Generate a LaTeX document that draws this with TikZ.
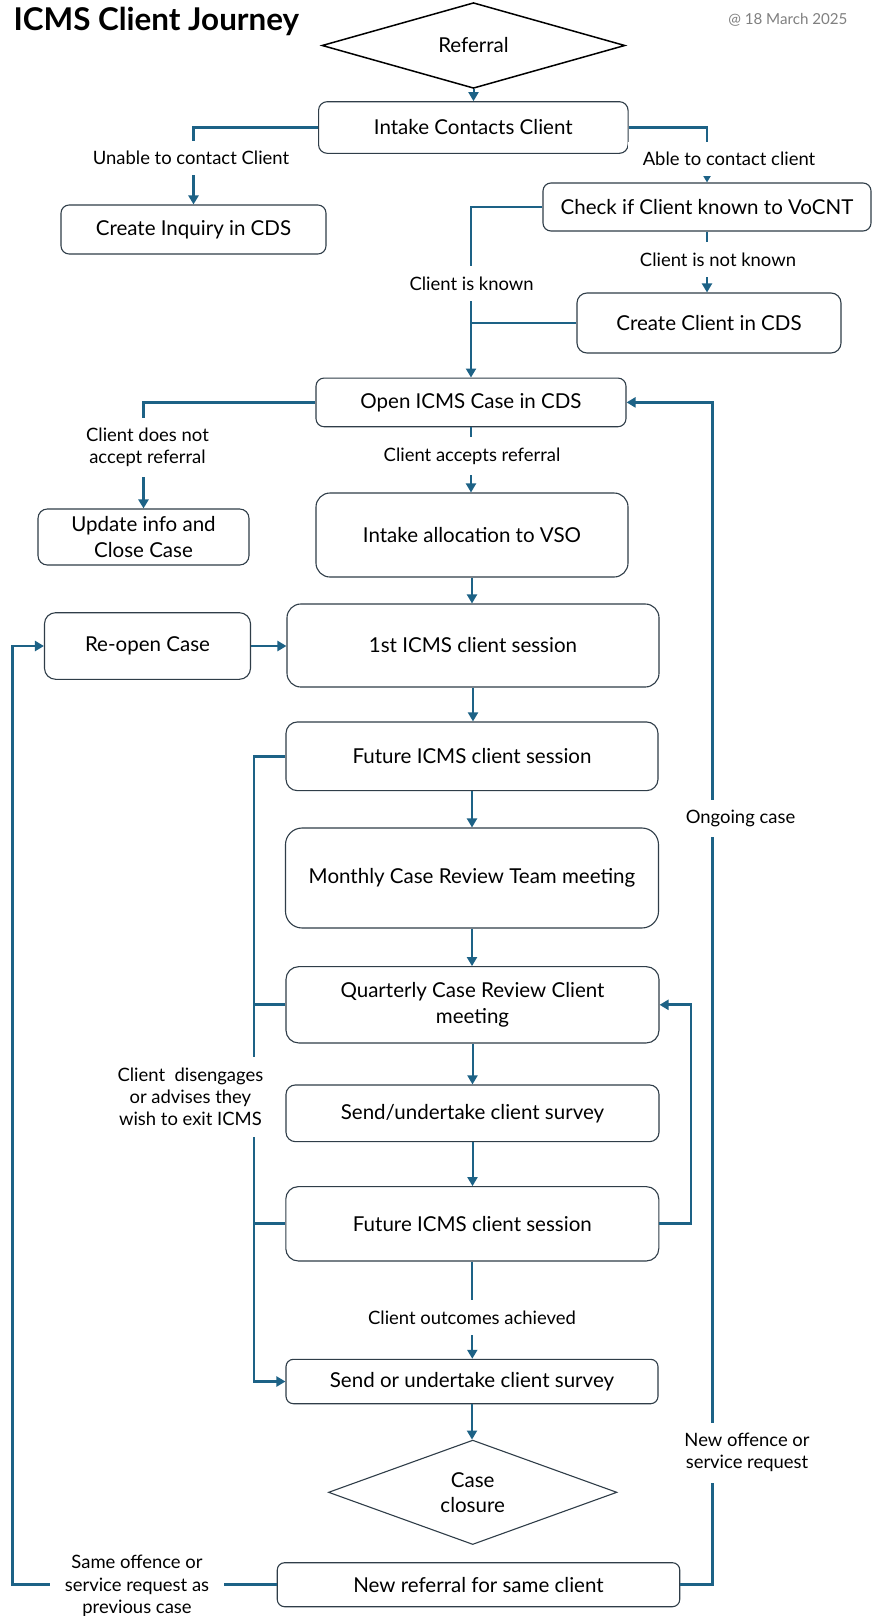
\documentclass[tikz,border=0pt]{standalone}
\usepackage{fontspec}
\setmainfont{Lato}
\usetikzlibrary{arrows.meta,shapes.geometric}
\definecolor{connc}{HTML}{1D6286}
\definecolor{edgec}{HTML}{2F3D48}
\definecolor{stampc}{HTML}{808080}

\begin{document}
\begin{tikzpicture}[x=1bp,y=-1bp,
  box/.style 2 args={draw=edgec, line width=1.1bp, rounded corners=0.1667*#2,
    minimum width=#1, minimum height=#2, inner sep=0pt, align=center,
    font=\fontsize{20.6}{25.5}\selectfont},
  decision/.style 2 args={shape=diamond, draw=#1, line width=#2, inner sep=0pt,
    align=center, font=\fontsize{20.6}{25}\selectfont},
  flow/.style={draw=connc, line width=2bp, -{Triangle[length=9bp,width=10bp]}},
  elbow/.style={draw=connc, line width=2.8bp, -{Triangle[length=9bp,width=10bp]}},
  joint/.style={draw=connc, line width=2.8bp},
  lbl/.style={fill=white, inner xsep=15bp, inner ysep=10.5bp, align=center,
    font=\fontsize{18.5}{22.3}\selectfont},
]
\useasboundingbox (0,0) rectangle (873,1616);
\fill[white] (0,0) rectangle (873,1616);

% heading
\node[anchor=west, font=\bfseries\fontsize{31.5}{33}\selectfont] (title) at (10,21) {ICMS Client Journey};
\node[anchor=east, text=stampc, font=\fontsize{15.2}{17}\selectfont] (stamp) at (851,20) {@ 18 March 2025};

% steps
\node[decision={black}{1.5bp}, minimum width=303bp, minimum height=67bp] (referral) at (473.5,45.5) {Referral};
\node[box={309.5bp}{51.6bp}] (intake) at (473.3,127.5) {Intake Contacts Client};
\node[box={265bp}{49bp}] (inquiry) at (193.5,229.5) {Create Inquiry in CDS};
\node[box={328bp}{48bp}] (check) at (707,207) {Check if Client known to VoCNT};
\node[box={264bp}{60bp}] (create) at (709,323) {Create Client in CDS};
\node[box={310bp}{48.7bp}] (open) at (471,402.4) {Open ICMS Case in CDS};
\node[box={211bp}{56bp}] (update) at (143.5,537) {Update info and\\Close Case};
\node[box={312bp}{84bp}] (alloc) at (472,535) {Intake allocation to VSO};
\node[box={372bp}{83bp}] (first) at (473,645.5) {1st ICMS client session};
\node[box={206bp}{66.6bp}] (reopen) at (147.5,646) {Re-open Case};
\node[box={372bp}{68.7bp}] (future1) at (472,756.3) {Future ICMS client session};
\node[box={373bp}{100bp}] (monthly) at (472,878) {Monthly Case Review Team meeting};
\node[box={373bp}{76.3bp}] (quarterly) at (472.5,1004.8) {Quarterly Case Review Client\\meeting};
\node[box={373bp}{56.7bp}] (survey1) at (472.5,1113.3) {Send/undertake client survey};
\node[box={373bp}{74.3bp}] (future2) at (472.3,1223.8) {Future ICMS client session};
\node[box={372bp}{44.4bp}] (survey2) at (472,1381.5) {Send or undertake client survey};
\node[decision={edgec}{1.1bp}, minimum width=288.5bp, minimum height=86bp] (closure) at (472.7,1492.3) {Case\\closure};
\node[box={402.5bp}{44bp}] (newref) at (478.5,1584.7) {New referral for same client};

% routing lines for the loops
\coordinate (spine) at (254,756);
\coordinate (inner) at (691,1005);
\coordinate (outer) at (712.7,402);
\coordinate (farleft) at (12.2,646);

% main column
\draw[flow] (referral.south) -- (referral.south |- intake.north);
\draw[flow] (open.south) -- (open.south |- alloc.north);
\draw[flow] (alloc.south) -- (alloc.south |- first.north);
\draw[flow] (first.south) -- (first.south |- future1.north);
\draw[flow] (future1.south) -- (future1.south |- monthly.north);
\draw[flow] (monthly.south) -- (monthly.south |- quarterly.north);
\draw[flow] (quarterly.south) -- (quarterly.south |- survey1.north);
\draw[flow] (survey1.south) -- (survey1.south |- future2.north);
\draw[flow] (future2.south) -- (future2.south |- survey2.north);
\draw[flow] (survey2.south) -- (survey2.south |- closure.north);

% branches at the top
\draw[elbow] (intake.west) -| (inquiry.north);
\draw[elbow] (intake.east) -| (check.north);
\draw[elbow] (check.west) -| (open.north);
\draw[flow] (check.south) -- (check.south |- create.north);
\draw[joint] (create.west) -- (create.west -| open.north);
\draw[elbow] (open.west) -| (update.north);
\draw[elbow] (reopen.east) -- (reopen.east -| first.west);

% exits to the final survey
\draw[elbow] (future1.west) -- (future1.west -| spine) |- (survey2.west);
\draw[joint] (quarterly.west) -- (quarterly.west -| spine);
\draw[joint] (future2.west) -- (future2.west -| spine);

% loops
\draw[elbow] (future2.east) -- (future2.east -| inner) |- (quarterly.east);
\draw[elbow] (newref.east) -- (newref.east -| outer) |- (open.east);
\draw[elbow] (newref.west) -- (newref.west -| farleft) |- (reopen.west);

% connector labels
\node[lbl] (unable) at (191,158) {Unable to contact Client};
\node[lbl] (able) at (729,159) {Able to contact client};
\node[lbl] (known) at (471.6,283.5) {Client is known};
\node[lbl] (notknown) at (718,259.5) {Client is not known};
\node[lbl] (noaccept) at (147.5,447.5) {Client does not\\accept referral};
\node[lbl] (accepts) at (472,456) {Client accepts referral};
\node[lbl] (ongoing) at (740.5,818.5) {Ongoing case};
\node[lbl] (exit) at (190.4,1097) {Client\ \ disengages\\or advises they\\wish to exit ICMS};
\node[lbl] (outcomes) at (472,1317.7) {Client outcomes achieved};
\node[lbl] (newoffence) at (747,1452.7) {New offence or\\service request};
\node[lbl] (sameoffence) at (137,1586) {Same offence or\\service request as\\previous case};
\end{tikzpicture}
\end{document}
